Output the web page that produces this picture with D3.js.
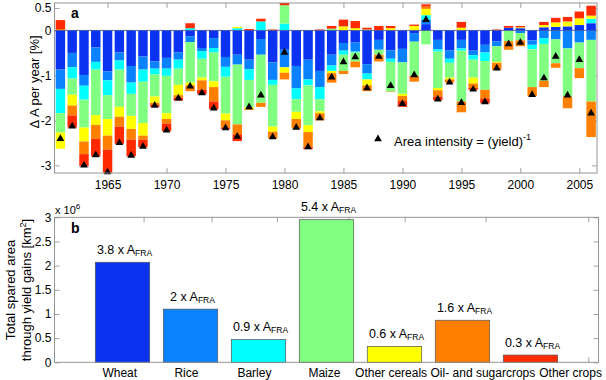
<!DOCTYPE html>
<html><head><meta charset="utf-8">
<script src="https://cdn.jsdelivr.net/npm/d3@7/dist/d3.min.js"></script>
<style>body{margin:0;background:#fff} svg text{font-family:"Liberation Sans",Arial,Helvetica,sans-serif;fill:#000}</style>
</head><body><svg id="c" width="606" height="380"></svg>
<script>
// ---------- data: panel a ----------
const years = [1961,1962,1963,1964,1965,1966,1967,1968,1969,1970,1971,1972,1973,1974,1975,1976,1977,1978,1979,1980,1981,1982,1983,1984,1985,1986,1987,1988,1989,1990,1991,1992,1993,1994,1995,1996,1997,1998,1999,2000,2001,2002,2003,2004,2005,2006];
const wheat = [-0.87,-0.50,-0.99,-0.38,-0.91,-0.49,-0.79,-0.58,-0.69,-0.61, -0.49,-0.13,-0.39,-0.17,-0.59,-0.54,-0.65,-0.19,-0.71,-0.43, -0.79,-0.65,-0.90,-0.54,-0.28,-0.27,-0.75,-0.21,-0.44,-0.41, -0.06,0.14,-0.21,-0.44,-0.21,-0.45,-0.32,-0.24,0.06,0.05, -0.22,0.07,0.08,0.09,0.12,0.16];
const rice = [-0.43,-0.32,-0.24,-0.32,-0.20,-0.18,-0.37,-0.29,-0.16,-0.24, -0.16,-0.13,-0.07,-0.22,-0.22,-0.22,-0.21,-0.35,-0.39,-0.39, -0.50,-0.44,-0.36,-0.24,-0.17,-0.20,-0.21,-0.22,-0.19,-0.30, -0.19,0.10,-0.21,-0.19,-0.19,-0.10,-0.17,-0.11,0,-0.06, -0.10,-0.17,-0.20,-0.40,-0.27,-0.21];
const barley = [-0.54,-0.25,-0.31,-0.17,-0.33,-0.20,-0.25,-0.27,-0.13,-0.16, -0.20,0.05,-0.17,-0.10,-0.22,0.05,-0.24,0.20,-0.11,0.15, -0.24,-0.13,-0.27,-0.12,-0.09,-0.02,-0.13,0,-0.07,0, 0,0.10,-0.05,-0.09,-0.05,-0.10,-0.19,0,0,0, -0.10,-0.13,0,0,0,0.10];
const maize = [-0.43,-0.36,-0.62,-1.01,-0.53,-0.83,-0.49,-0.92,-0.49,-0.83, -0.36,-0.90,-0.42,-0.64,-0.82,-1.33,-0.61,-1.07,-0.93,0.41, -0.28,-0.89,-0.27,0.04,-0.36,-0.20,0.02,-0.11,-0.66,-0.70, -0.76,-0.31,-0.81,-0.33,-1.13,-0.40,-0.64,-0.35,-0.24,-0.16, -0.84,-0.82,-0.53,-1.07,-0.57,-1.37];
const otherCereals = [-0.36,-0.24,-0.31,-0.22,-0.37,-0.22,-0.29,-0.28,-0.14,-0.13, -0.23,-0.06,-0.06,-0.13,-0.15,0.03,-0.04,0,-0.11,-0.12, -0.16,-0.15,-0.04,-0.05,0.09,0.05,-0.13,0,0.05,-0.05, 0.10,0.14,-0.05,-0.04,0.06,-0.13,0,-0.02,0,0.02, 0,0.05,0.10,0.11,0.15,0.07];
const oilSugar = [0.03,-0.22,-0.28,-0.31,-0.31,-0.22,-0.24,-0.09,-0.05,-0.10, -0.06,-0.13,-0.21,-0.32,-0.16,-0.22,-0.02,-0.09,-0.15,-0.15, -0.21,-0.34,-0.16,-0.21,-0.07,-0.13,-0.13,-0.15,-0.01,-0.11, -0.13,0.05,-0.14,-0.07,-0.24,-0.10,-0.19,-0.16,-0.19,-0.13, -0.20,-0.14,-0.10,-0.26,-0.22,-0.79];
const otherCrops = [0.20,-0.27,-0.27,-0.39,-0.51,-0.38,-0.37,-0.17,-0.04,-0.17, -0.06,0.11,-0.10,-0.17,-0.03,-0.15,0.03,0.06,0.02,0.05, 0,-0.04,0.02,0.06,0.15,0.16,0.04,0.10,0.05,-0.13, 0.03,0.05,-0.08,0,0.13,-0.04,-0.11,0.02,0.04,0.03, 0,0.07,0.10,0.10,0.15,0.22];
const areaIntensity = [-2.41,-2.13,-3.00,-2.77,-3.15,-2.50,-2.78,-2.58,-1.67,-2.22, -1.51,-1.24,-1.39,-1.73,-2.17,-2.36,-1.70,-1.44,-2.37,-0.49, -2.16,-2.59,-1.95,-1.04,-0.70,-0.59,-1.28,-0.58,-1.23,-1.63, -0.99,0.24,-1.53,-1.15,-1.61,-1.31,-1.59,-0.84,-0.30,-0.27, -1.43,-1.06,-0.58,-1.44,-0.65,-1.84];
const yTicksA = [-3,-2,-1,0,0.5];
const xTicksA = [1965,1970,1975,1980,1985,1990,1995,2000,2005];

// ---------- data: panel b ----------
const cropNames = ["Wheat","Rice","Barley","Maize","Other cereals","Oil- and sugarcrops","Other crops"];
const sparedArea = [2.07,1.10,0.47,2.95,0.33,0.87,0.15];
const fraMultiple = ["3.8","2","0.9","5.4","0.6","1.6","0.3"];
const yTicksB = [0,0.5,1,1.5,2,2.5,3];
const xTicksB = [1.31,2.31,3.27,4.32,5.15,6.34,7.85];
const xLabelPosB = [0.96,1.94,2.94,3.97,4.95,6.30,7.59];

const colors = ["#0a32f0","#0a82ff","#00ffff","#80ff80","#ffff00","#ff8000","#ff2a00"];
const series = [wheat,rice,barley,maize,otherCereals,oilSugar,otherCrops];

const svg = d3.select("#c");
const frameCol = "#8a8a8a";

function inAxes(g, scaleX, scaleY, xt, yt, xLabels, yfmt, tickLen){
  const la = d3.axisLeft(scaleY).tickValues(yt).tickSizeInner(-tickLen).tickSizeOuter(0).tickPadding(3).tickFormat(yfmt);
  const lg = g.append("g").attr("transform",`translate(${scaleX.range()[0]},0)`).call(la);
  const ra = d3.axisRight(scaleY).tickValues(yt).tickSizeInner(-tickLen).tickSizeOuter(0).tickFormat("");
  const rg = g.append("g").attr("transform",`translate(${scaleX.range()[1]},0)`).call(ra);
  const ta = d3.axisTop(scaleX).tickValues(xt).tickSizeInner(-tickLen).tickSizeOuter(0).tickFormat("");
  const tg = g.append("g").attr("transform",`translate(0,${scaleY.range()[1]})`).call(ta);
  const ba = d3.axisBottom(scaleX).tickValues(xt).tickSizeInner(-tickLen).tickSizeOuter(0).tickPadding(7).tickFormat(xLabels ? d3.format("d") : "");
  const bg = g.append("g").attr("transform",`translate(0,${scaleY.range()[0]})`).call(ba);
  [lg,rg,tg,bg].forEach(a=>{
    a.select(".domain").remove();
    a.selectAll("line").attr("stroke",frameCol).attr("stroke-width",0.8);
    a.selectAll("text").attr("font-size",12).attr("fill","#000").style("font-family",'"Liberation Sans",Arial,sans-serif');
  });
}

// ================= Panel a =================
const A = {l:54.5, r:597, t:3, b:173};
const xA = d3.scaleLinear().domain([1960.5, 2006.5]).range([A.l, A.r]);
const yA = d3.scaleLinear().domain([-3.17, 0.61]).range([A.b, A.t]);
const gA = svg.append("g");
inAxes(gA, xA, yA, xTicksA, yTicksA, true, d=> d===0?"0":(d===0.5?"0.5":String(d)), 5);

const segs = [];
years.forEach((yr,i)=>{
  let pos=0, neg=0;
  series.forEach((s,k)=>{
    const v = s[i];
    if (v===0) return;
    let y0,y1;
    if (v>0){ y0=pos; y1=pos+v; pos=y1; } else { y0=neg; y1=neg+v; neg=y1; }
    segs.push({yr, y0, y1, k});
  });
});
const bw = 0.8;
gA.append("g").selectAll("rect").data(segs).join("rect")
  .attr("x", d=>xA(d.yr - bw/2))
  .attr("width", xA(bw) - xA(0))
  .attr("y", d=>yA(Math.max(d.y0,d.y1)))
  .attr("height", d=>Math.abs(yA(d.y0)-yA(d.y1)))
  .attr("fill", d=>colors[d.k]);
gA.append("line").attr("x1",A.l).attr("x2",A.r).attr("y1",yA(0)).attr("y2",yA(0))
  .attr("stroke","#3a4a9a").attr("stroke-width",0.8);
const tri = d3.symbol().type(d3.symbolTriangle).size(26);
gA.append("g").selectAll("path").data(years).join("path")
  .attr("transform",(d,i)=>`translate(${xA(d)},${yA(areaIntensity[i])})`)
  .attr("d", tri).attr("fill","#000");
gA.append("rect").attr("x",A.l).attr("y",A.t).attr("width",A.r-A.l).attr("height",A.b-A.t)
  .attr("fill","none").attr("stroke",frameCol).attr("stroke-width",0.9);
gA.append("path").attr("transform","translate(378,139)").attr("d",tri).attr("fill","#000");
const lt = gA.append("text").attr("x",394).attr("y",146).attr("font-size",13);
lt.append("tspan").text("Area intensity = (yield)");
lt.append("tspan").attr("dy",-6).attr("font-size",9).text("-1");
gA.append("text").attr("x",71).attr("y",18).attr("font-size",14).attr("font-weight","bold").text("a");
gA.append("text").attr("transform","translate(39,82) rotate(-90)").attr("text-anchor","middle")
  .attr("font-size",13).text("\u0394 A per year [%]");

// ================= Panel b =================
const B = {l:54.5, r:598.5, t:217.3, b:362.3};
const xB = d3.scaleLinear().domain([0,8]).range([B.l,B.r]);
const yB = d3.scaleLinear().domain([0,3]).range([B.b,B.t]);
const gB = svg.append("g");
inAxes(gB, xB, yB, xTicksB, yTicksB, false, d=>String(d), 5);
gB.append("g").selectAll("rect").data(sparedArea).join("rect")
  .attr("x",(d,i)=>xB(i+1-0.4)).attr("width",xB(0.8)-xB(0))
  .attr("y",d=>yB(d)).attr("height",d=>yB(0)-yB(d))
  .attr("fill",(d,i)=>colors[i]).attr("stroke","#555").attr("stroke-width",0.7);
gB.append("rect").attr("x",B.l).attr("y",B.t).attr("width",B.r-B.l).attr("height",B.b-B.t)
  .attr("fill","none").attr("stroke",frameCol).attr("stroke-width",0.9);
sparedArea.forEach((v,i)=>{
  const t = gB.append("text").attr("x",xB(i+1)+2).attr("y",yB(v)-8.5).attr("text-anchor","middle").attr("font-size",12.5);
  t.append("tspan").text(fraMultiple[i]+" x A");
  t.append("tspan").attr("font-size",8.5).attr("dy",2).text("FRA");
});
cropNames.forEach((n,i)=>{
  gB.append("text").attr("x",xB(xLabelPosB[i])).attr("y",376.5).attr("text-anchor","middle").attr("font-size",12).text(n);
});
const ex = gB.append("text").attr("x",55).attr("y",214).attr("font-size",11);
ex.append("tspan").text("x 10");
ex.append("tspan").attr("dy",-5).attr("font-size",8).text("6");
gB.append("text").attr("x",71).attr("y",233).attr("font-size",14).attr("font-weight","bold").text("b");
gB.append("text").attr("transform","translate(15,290) rotate(-90)").attr("text-anchor","middle")
  .attr("font-size",13).text("Total spared area");
const yl2 = gB.append("text").attr("transform","translate(30.5,290) rotate(-90)").attr("text-anchor","middle").attr("font-size",13);
yl2.append("tspan").text("through yield gains [km");
yl2.append("tspan").attr("dy",-5).attr("font-size",9).text("2");
yl2.append("tspan").attr("dy",5).text("]");
</script></body></html>
